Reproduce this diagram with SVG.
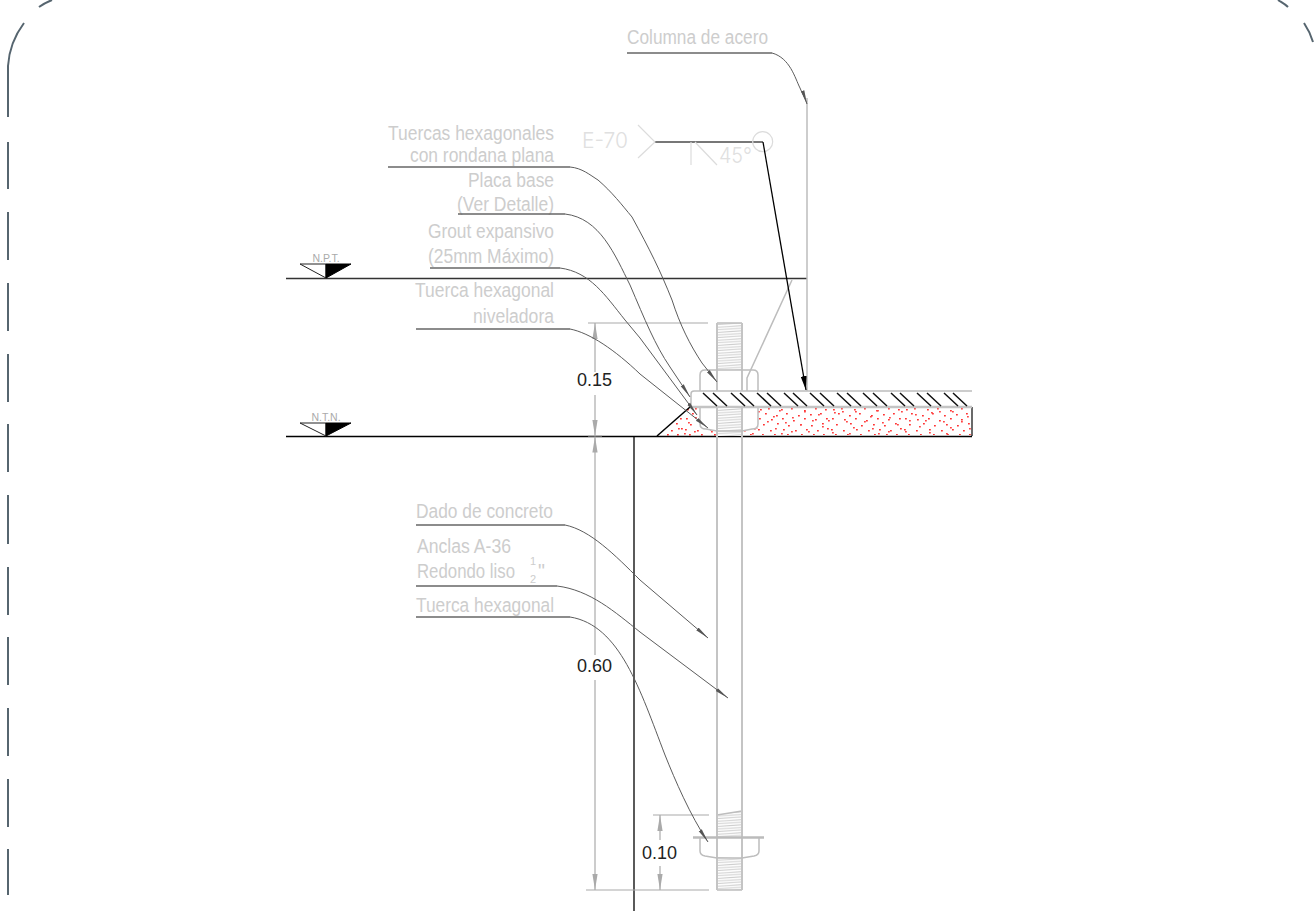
<svg xmlns="http://www.w3.org/2000/svg" width="1314" height="921" viewBox="0 0 1314 921">
<style>
text{font-family:"Liberation Sans",Arial,sans-serif}
.lab{font-size:19.5px;fill:#cdcdcd}
.r{text-anchor:end}
.fr{font-size:11px;fill:#cdcdcd}
.dim{font-size:18px;fill:#222}
.lev{font-size:10.5px;fill:#aaa;text-anchor:middle}
.weld{font-family:Inter,"Liberation Sans",sans-serif;fill:#e0e0e0;font-size:22px;font-weight:300}
.frame{fill:none;stroke:#56656f;stroke-width:2}
.ldr{fill:none;stroke:#5c5c5c;stroke-width:1;marker-end:url(#la)}
.ul{fill:none;stroke:#666;stroke-width:1.3}
.g{fill:none;stroke:#bdbdbd;stroke-width:1.5}
.g2{fill:none;stroke:#c4c4c4;stroke-width:2}
.dl{fill:none;stroke:#aaa;stroke-width:1.2}
.da{stroke:#aaa;stroke-width:1.2;fill:none;marker-end:url(#da)}
.k{fill:none;stroke:#000;stroke-width:1.5}
.h{fill:none;stroke:#111;stroke-width:1.5}
.wl{fill:none;stroke:#dcdcdc;stroke-width:1.2}
</style>
<defs>
<marker id="la" markerUnits="userSpaceOnUse" markerWidth="14" markerHeight="6" refX="14" refY="3" orient="auto"><path d="M0,1.2 L14,3 L0,4.8 Z" fill="#555"/></marker>
<marker id="da" markerUnits="userSpaceOnUse" markerWidth="16" markerHeight="6" refX="16" refY="3" orient="auto"><path d="M0,0.4 L16,3 L0,5.6 Z" fill="#aaa"/></marker>
<marker id="ka" markerUnits="userSpaceOnUse" markerWidth="14" markerHeight="6" refX="14" refY="3" orient="auto"><path d="M0,0 L14,3 L0,6 Z" fill="#000"/></marker>
<pattern id="thr" patternUnits="userSpaceOnUse" x="717" y="0" width="26" height="2.6"><rect width="26" height="3" fill="#fff"/><path d="M0,2.2 L26,0.6" stroke="#cfcfcf" stroke-width="1.1"/></pattern>
<pattern id="sp" patternUnits="userSpaceOnUse" x="757" y="407" width="73" height="29">
<g fill="#f33">
<rect x="3" y="2" width="1.8" height="1.5"/><rect x="11" y="1" width="1.8" height="1.5"/><rect x="24" y="2" width="1.8" height="1.5"/><rect x="34" y="1" width="1.8" height="1.5"/><rect x="47" y="3" width="1.8" height="1.5"/><rect x="58" y="1" width="1.8" height="1.5"/><rect x="68" y="2" width="1.8" height="1.5"/>
<rect x="8" y="6" width="1.8" height="1.5"/><rect x="19" y="8" width="1.8" height="1.5"/><rect x="29" y="6" width="1.8" height="1.5"/><rect x="41" y="8" width="1.8" height="1.5"/><rect x="53" y="7" width="1.8" height="1.5"/><rect x="63" y="6" width="1.8" height="1.5"/>
<rect x="2" y="11" width="1.8" height="1.5"/><rect x="14" y="12" width="1.8" height="1.5"/><rect x="25" y="11" width="1.8" height="1.5"/><rect x="36" y="13" width="1.8" height="1.5"/><rect x="47" y="11" width="1.8" height="1.5"/><rect x="58" y="12" width="1.8" height="1.5"/><rect x="69" y="11" width="1.8" height="1.5"/>
<rect x="6" y="17" width="1.8" height="1.5"/><rect x="20" y="16" width="1.8" height="1.5"/><rect x="31" y="18" width="1.8" height="1.5"/><rect x="43" y="17" width="1.8" height="1.5"/><rect x="54" y="18" width="1.8" height="1.5"/><rect x="65" y="16" width="1.8" height="1.5"/>
<rect x="1" y="22" width="1.8" height="1.5"/><rect x="13" y="23" width="1.8" height="1.5"/><rect x="26" y="22" width="1.8" height="1.5"/><rect x="38" y="23" width="1.8" height="1.5"/><rect x="49" y="22" width="1.8" height="1.5"/><rect x="60" y="23" width="1.8" height="1.5"/><rect x="70" y="21" width="1.8" height="1.5"/>
<rect x="5" y="27" width="1.8" height="1.5"/><rect x="17" y="27" width="1.8" height="1.5"/><rect x="30" y="27" width="1.8" height="1.5"/><rect x="44" y="27" width="1.8" height="1.5"/><rect x="56" y="27" width="1.8" height="1.5"/><rect x="66" y="27" width="1.8" height="1.5"/>
</g>
</pattern>
<pattern id="sp2" patternUnits="userSpaceOnUse" x="740" y="407" width="97" height="29">
<g fill="#f44">
<rect x="5" y="4" width="1.8" height="1.5"/><rect x="9" y="14" width="1.8" height="1.5"/><rect x="16" y="20" width="1.8" height="1.5"/><rect x="18" y="4" width="1.8" height="1.5"/><rect x="27" y="14" width="1.8" height="1.5"/><rect x="33" y="9" width="1.8" height="1.5"/><rect x="35" y="21" width="1.8" height="1.5"/><rect x="39" y="3" width="1.8" height="1.5"/><rect x="45" y="15" width="1.8" height="1.5"/><rect x="51" y="24" width="1.8" height="1.5"/><rect x="52" y="10" width="1.8" height="1.5"/><rect x="60" y="17" width="1.8" height="1.5"/><rect x="64" y="4" width="1.8" height="1.5"/><rect x="68" y="24" width="1.8" height="1.5"/><rect x="72" y="13" width="1.8" height="1.5"/><rect x="78" y="7" width="1.8" height="1.5"/><rect x="82" y="19" width="1.8" height="1.5"/><rect x="88" y="13" width="1.8" height="1.5"/><rect x="92" y="25" width="1.8" height="1.5"/><rect x="94" y="5" width="1.8" height="1.5"/><rect x="12" y="26" width="1.8" height="1.5"/><rect x="41" y="26" width="1.8" height="1.5"/>
</g>
</pattern>
</defs>
<rect width="1314" height="921" fill="#fff"/>

<g id="frame">
<path class="frame" d="M8,117 V66 C9,50 15,35 24,23"/>
<path class="frame" d="M39,7 C43,4 47,2 52,0"/>
<path class="frame" d="M1278,0 C1281,2 1285,4 1288,7"/>
<path class="frame" d="M1304,23 C1308,29 1311,35 1313,42"/>
<path class="frame" d="M8,142V189M8,212V260M8,283V331M8,354V402M8,424V472M8,495V544M8,567V615M8,637V685M8,708V756M8,779V827M8,849V895"/>
</g>

<g id="concrete">
<polygon points="657,436 690,407 700,407 700,428 716,431 716,436" fill="url(#sp)"/>
<polygon points="657,436 690,407 700,407 700,428 716,431 716,436" fill="url(#sp2)"/>
<polygon points="742,436 742,431 758,428 758,408 971,408 971,435 742,435" fill="url(#sp)"/>
<polygon points="742,436 742,431 758,428 758,408 971,408 971,435 742,435" fill="url(#sp2)"/>
<path class="k" d="M657,436 L690,407"/>
<path d="M972,407 V436" stroke="#444" stroke-width="1.6" fill="none"/>
</g>

<g id="ground-lines">
<path d="M286,278.5 H807" stroke="#333" stroke-width="1.5" fill="none"/>
<path d="M286,436.5 H972" stroke="#000" stroke-width="1.5" fill="none"/>
<path d="M634,436 V911" stroke="#000" stroke-width="1.3" fill="none"/>
</g>

<g id="level-npt">
<path d="M300,264 H326 V278 Z" fill="#fff" stroke="#222"/>
<path d="M326,264 H351 L326,278 Z" fill="#000" stroke="#000"/>
<text class="lev" x="326" y="262">N.P.T.</text>
</g>
<g id="level-ntn">
<path d="M300,423 H326 V436 Z" fill="#fff" stroke="#222"/>
<path d="M326,423 H351 L326,436 Z" fill="#000" stroke="#000"/>
<text class="lev" x="326" y="421">N.T.N.</text>
</g>

<g id="column">
<path class="g" d="M807,98 V391"/>
<path class="g" d="M792,280 L747,378 V391"/>
</g>

<g id="base-plate">
<path class="g" d="M691,407 V394 Q691,391 694,391 H972"/>
<path d="M690,407 H972" stroke="#c4c4c4" stroke-width="2.4" fill="none"/>
<path class="h" d="M703,393L717,406M713,393L727,406M731,393L745,406M740,393L754,406M757,393L771,406M767,393L781,406M784,393L798,406M793,393L807,406M810,393L824,406M820,393L834,406M837,393L851,406M847,393L861,406M863,393L877,406M873,393L887,406M891,393L905,406M900,393L914,406M917,393L931,406M927,393L941,406M944,393L958,406M953,393L967,406"/>
</g>

<g id="anchor-bolt">
<rect x="717" y="323" width="25" height="47" fill="url(#thr)"/>
<rect x="717" y="408" width="25" height="28" fill="url(#thr)"/>
<path d="M717,815 L742,811 V837 H717 Z" fill="url(#thr)"/>
<rect x="717" y="857" width="25" height="33" fill="url(#thr)"/>
<path class="g" d="M717,323 H742 M717,890 H742 M717,815 L742,811"/>
<path class="g2" d="M717,323 V391 M742,323 V391 M717,407 V890 M742,407 V890"/>
<path class="g" d="M700,391 V375 Q700,370 705,370 H753 Q758,370 758,375 V391"/>
<path class="g" d="M700,408 V424 Q700,429 706,429 L717,431 H742 L752,429 Q758,429 758,424 V408"/>
<path d="M693,837.5 H764" stroke="#bbb" stroke-width="2.6" fill="none"/>
<path class="g" d="M700,838 V851 Q700,855 705,856 L717,858 H742 L754,856 Q759,855 759,851 V838"/>
</g>

<g id="dimensions">
<path class="dl" d="M588,323 H708 M586,890 H709 M653,815 H709 M588,436 H602"/>
<path class="da" d="M595,372 V323"/>
<path class="da" d="M595,395 V436"/>
<path class="da" d="M595,655 V436.5"/>
<path class="da" d="M595,680 V890"/>
<path class="da" d="M660,840 V815"/>
<path class="da" d="M660,866 V890"/>
<text class="dim" x="577" y="386">0.15</text>
<text class="dim" x="577" y="672">0.60</text>
<text class="dim" x="642" y="859">0.10</text>
</g>

<g id="weld-symbol">
<path d="M655,142 H763" stroke="#777" stroke-width="2" fill="none"/>
<path class="wl" d="M638,125 L655,142 L638,158 M691,142 V165 M695,142 L717,165"/>
<circle class="wl" cx="762.7" cy="141.7" r="10"/>
<text class="weld" x="582" y="148" textLength="46" lengthAdjust="spacingAndGlyphs">E-70</text>
<text class="weld" x="719" y="163" textLength="33" lengthAdjust="spacingAndGlyphs">45°</text>
</g>

<g id="labels">
<text class="lab" x="627" y="44" textLength="141" lengthAdjust="spacingAndGlyphs">Columna de acero</text>
<text class="lab r" x="554" y="140" textLength="166" lengthAdjust="spacingAndGlyphs">Tuercas hexagonales</text>
<text class="lab r" x="554" y="162" textLength="144" lengthAdjust="spacingAndGlyphs">con rondana plana</text>
<text class="lab r" x="554" y="187" textLength="86" lengthAdjust="spacingAndGlyphs">Placa base</text>
<text class="lab r" x="554" y="211" textLength="97" lengthAdjust="spacingAndGlyphs">(Ver Detalle)</text>
<text class="lab r" x="554" y="238" textLength="126" lengthAdjust="spacingAndGlyphs">Grout expansivo</text>
<text class="lab r" x="554" y="263" textLength="126" lengthAdjust="spacingAndGlyphs">(25mm Máximo)</text>
<text class="lab r" x="554" y="297" textLength="139" lengthAdjust="spacingAndGlyphs">Tuerca hexagonal</text>
<text class="lab r" x="554" y="323" textLength="81" lengthAdjust="spacingAndGlyphs">niveladora</text>
<text class="lab" x="416" y="518" textLength="137" lengthAdjust="spacingAndGlyphs">Dado de concreto</text>
<text class="lab" x="417" y="553" textLength="94" lengthAdjust="spacingAndGlyphs">Anclas A-36</text>
<text class="lab" x="417" y="578" textLength="98" lengthAdjust="spacingAndGlyphs">Redondo liso</text>
<text class="fr" x="530" y="565">1</text>
<text class="fr" x="530" y="583">2</text>
<text class="lab" x="538" y="578" font-size="15">"</text>
<text class="lab" x="416" y="612" textLength="138" lengthAdjust="spacingAndGlyphs">Tuerca hexagonal</text>
</g>

<g id="connectors">
<path class="ul" d="M627,53 H772"/>
<path class="ldr" d="M772,53 C790,58 795,78 800,88 C802,93 805,98 807,104"/>
<path class="ul" d="M388,167 H570"/>
<path class="ldr" d="M570,167 C582,168 590,175 598,180 C612,192 622,205 632,217 C650,250 660,270 672,300 C680,325 690,345 702,363 L717,382"/>
<path class="ul" d="M458,214 H565"/>
<path class="ldr" d="M565,214 C600,218 615,255 630,285 C645,320 655,345 670,367 L690,397"/>
<path class="ul" d="M430,268 H560"/>
<path class="ldr" d="M560,268 C590,272 605,295 625,320 L640,338 L697,415"/>
<path class="ul" d="M416,329 H570"/>
<path class="ldr" d="M570,329 C590,333 615,350 640,374 L708,428"/>
<path class="ul" d="M416,525 H565"/>
<path class="ldr" d="M565,525 C590,530 615,555 640,580 L708,638"/>
<path class="ul" d="M416,586 H557"/>
<path class="ldr" d="M557,586 C590,590 615,612 640,632 L728,698"/>
<path class="ul" d="M416,617 H570"/>
<path class="ldr" d="M570,617 C620,625 640,690 665,755 C675,780 690,815 708,842"/>
<path d="M763,142 L806,390" stroke="#000" stroke-width="1.3" fill="none" marker-end="url(#ka)"/>
</g>
</svg>
